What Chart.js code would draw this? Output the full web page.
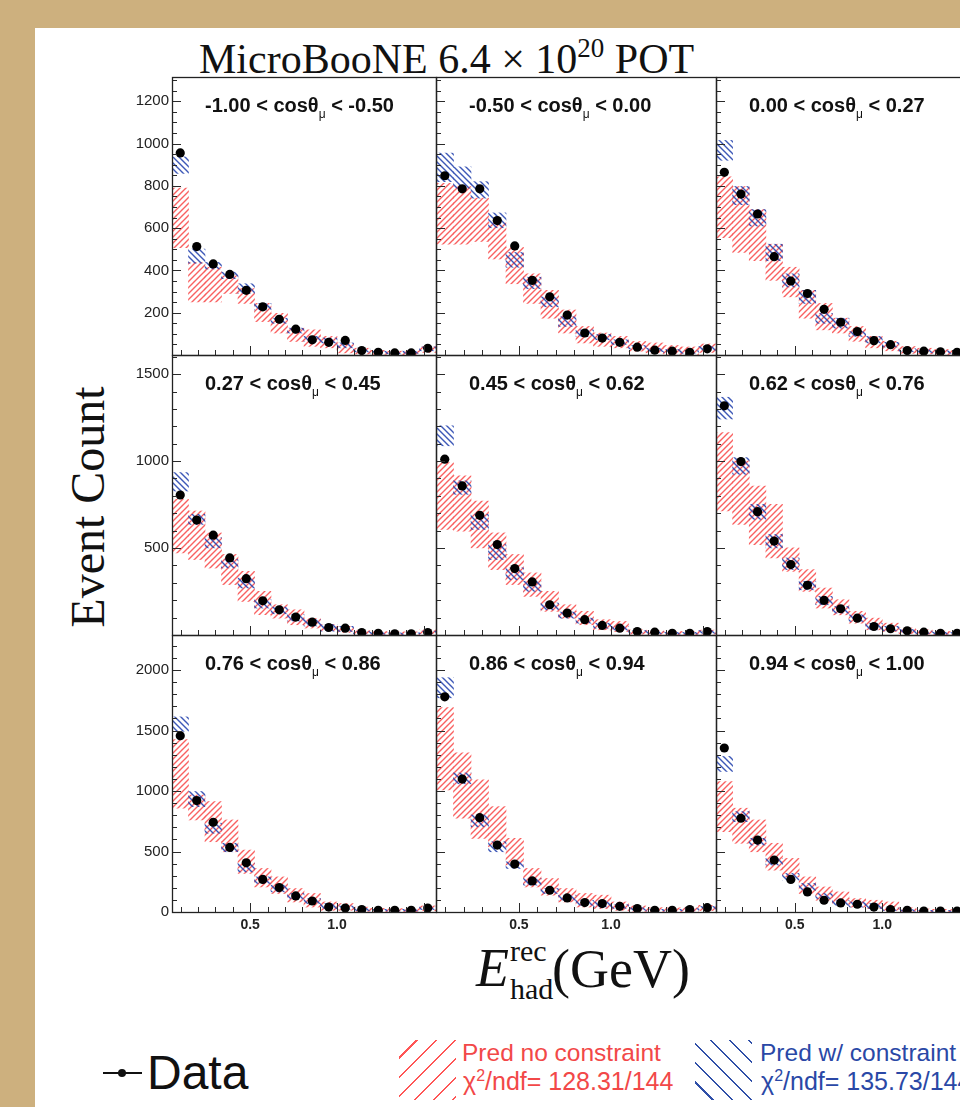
<!DOCTYPE html>
<html>
<head>
<meta charset="utf-8">
<script src="https://cdn.jsdelivr.net/npm/chart.js@4.4.1/dist/chart.umd.min.js"></script>
<style>
  html, body { margin: 0; padding: 0; width: 960px; height: 1107px; overflow: hidden; background: #cdb07e; }
  #sheet { position: absolute; left: 35px; top: 28px; width: 925px; height: 1079px; background: #fff; }
  .abs { position: absolute; white-space: nowrap; }
  .serif { font-family: 'Liberation Serif', 'DejaVu Serif', serif; color: #111; }
  .sans { font-family: 'Liberation Sans', Arial, sans-serif; }
  .plabel { font: bold 20px 'Liberation Sans', Arial, sans-serif; line-height: 20px; color: #111; }
  .plabel sub { font-size: 12px; line-height: 0; vertical-align: -6px; font-weight: normal; }
  .chi sup { font-size: 16px; line-height: 0; vertical-align: 9px; }
  canvas { position: absolute; }
</style>
</head>
<body>
<div id="sheet"></div>

<div class="abs serif" style="left:199px; top:38px; font-size:42px; line-height:42px;">MicroBooNE 6.4 × 10<sup style="font-size:27px; line-height:0; vertical-align:16px;">20</sup> POT</div>

<div class="abs serif" style="left:-62px; top:483px; width:300px; text-align:center; font-size:48px; line-height:48px; transform:rotate(-90deg);">Event Count</div>

<div class="abs serif" style="left:476px; top:941px; font-size:54px; line-height:54px; font-style:italic;">E</div>
<div class="abs serif" style="left:510px; top:936px; font-size:30px; line-height:30px;">rec</div>
<div class="abs serif" style="left:510px; top:974px; font-size:30px; line-height:30px;">had</div>
<div class="abs serif" style="left:552px; top:942px; font-size:54px; line-height:54px;">(GeV)</div>

<!-- legend -->
<div class="abs" style="left:103px; top:1072px; width:39px; height:2px; background:#111;"></div>
<div class="abs" style="left:118px; top:1069px; width:8px; height:8px; border-radius:50%; background:#111;"></div>
<div class="abs sans" style="left:147px; top:1049px; font-size:48px; line-height:48px; color:#111;">Data</div>

<div class="abs" style="left:399px; top:1040px; width:57px; height:60px; background:repeating-linear-gradient(135deg, transparent 0 12px, #f55 12px 13.5px);"></div>
<div class="abs sans" style="left:462px; top:1041px; font-size:24.5px; line-height:24px; color:#f24848;">Pred no constraint</div>
<div class="abs sans chi" style="left:463px; top:1069px; font-size:25px; line-height:24px; color:#f24848;">χ<sup>2</sup>/ndf= 128.31/144</div>

<div class="abs" style="left:695px; top:1040px; width:57px; height:60px; background:repeating-linear-gradient(45deg, transparent 0 12px, #2f4fa8 12px 13.5px);"></div>
<div class="abs sans" style="left:760px; top:1041px; font-size:24.5px; line-height:24px; color:#2a48a6;">Pred w/ constraint</div>
<div class="abs sans chi" style="left:761px; top:1069px; font-size:25px; line-height:24px; color:#2a48a6;">χ<sup>2</sup>/ndf= 135.73/144</div>

<script>
// bins of reconstructed hadronic energy (GeV)
const binCenters = [0.0975, 0.1925, 0.2875, 0.3825, 0.4775, 0.5725, 0.6675, 0.7625, 0.8575, 0.9525, 1.0475, 1.1425, 1.2375, 1.3325, 1.4275, 1.5225];
const xMin = 0.05, xMax = 1.57;
const xTickLabels = [0.5, 1.0];

// cos theta_mu slices
const cosLo = ['-1.00', '-0.50', '0.00', '0.27', '0.45', '0.62', '0.76', '0.86', '0.94'];
const cosHi = ['-0.50', '0.00', '0.27', '0.45', '0.62', '0.76', '0.86', '0.94', '1.00'];

// y axis per row
const yMax = [1315, 1610, 2290];
const yTickLabels = [[200, 400, 600, 800, 1000, 1200], [500, 1000, 1500], [0, 500, 1000, 1500, 2000]];

// -1.00 < cos < -0.50
const data1 = [956, 513, 431, 381, 306, 228, 169, 122, 72, 60, 69, 21, 13, 10, 10, 32];
const red1Lo = [508, 251, 251, 291, 244, 158, 104, 64, 41, 34, 10, 5, 3, 2, 2, 12];
const red1Hi = [789, 438, 415, 375, 314, 244, 197, 127, 119, 88, 57, 32, 22, 18, 20, 40];
const blue1Lo = [859, 434, 407, 361, 291, 213, 150, 104, 64, 57, 34, 14, 8, 6, 8, 20];
const blue1Hi = [937, 501, 438, 392, 337, 244, 174, 127, 88, 80, 57, 28, 18, 14, 18, 38];

// -0.50 < cos < 0.00
const data2 = [848, 786, 786, 636, 516, 353, 275, 189, 104, 80, 60, 37, 23, 18, 13, 29];
const red2Lo = [524, 524, 537, 454, 337, 244, 174, 104, 57, 41, 34, 18, 10, 4, 2, 12];
const red2Hi = [812, 797, 742, 625, 509, 384, 306, 213, 135, 104, 88, 64, 57, 45, 38, 52];
const blue2Lo = [820, 789, 742, 602, 415, 314, 228, 135, 88, 72, 50, 28, 16, 12, 8, 22];
const blue2Hi = [955, 890, 820, 672, 485, 368, 275, 181, 119, 97, 72, 45, 32, 26, 20, 40];

// 0.00 < cos < 0.27
const data3 = [864, 761, 667, 465, 350, 291, 216, 155, 111, 68, 49, 21, 18, 15, 13, 10];
const red3Lo = [555, 485, 446, 353, 275, 174, 119, 104, 65, 34, 20, 8, 5, 3, 2, 2];
const red3Hi = [843, 797, 688, 524, 415, 306, 244, 174, 135, 88, 65, 40, 32, 26, 22, 20];
const blue3Lo = [921, 711, 610, 446, 322, 244, 150, 127, 88, 57, 38, 15, 12, 10, 8, 6];
const blue3Hi = [1015, 797, 688, 524, 384, 306, 197, 174, 111, 88, 60, 30, 24, 20, 18, 16];

// 0.27 < cos < 0.45
const data4 = [805, 661, 574, 443, 324, 197, 145, 103, 74, 43, 39, 14, 10, 7, 7, 14];
const red4Lo = [472, 434, 385, 290, 193, 117, 97, 59, 40, 25, 15, 5, 3, 2, 2, 5];
const red4Hi = [780, 713, 587, 463, 366, 251, 174, 145, 95, 60, 50, 25, 20, 18, 18, 30];
const blue4Lo = [828, 636, 501, 386, 270, 155, 122, 80, 52, 22, 20, 6, 4, 3, 3, 8];
const blue4Hi = [934, 694, 559, 434, 328, 203, 160, 118, 90, 61, 50, 20, 15, 12, 12, 22];

// 0.45 < cos < 0.62
const data5 = [1011, 857, 688, 520, 382, 305, 174, 126, 88, 55, 39, 20, 16, 10, 10, 20];
const red5Lo = [607, 597, 501, 376, 290, 222, 136, 97, 59, 30, 20, 5, 3, 2, 2, 5];
const red5Hi = [991, 915, 770, 587, 463, 357, 251, 174, 136, 88, 78, 30, 25, 20, 20, 28];
const blue5Lo = [1088, 809, 607, 434, 318, 251, 145, 97, 68, 39, 28, 12, 8, 5, 5, 10];
const blue5Hi = [1203, 886, 694, 520, 386, 309, 184, 132, 97, 68, 50, 26, 20, 15, 15, 26];

// 0.62 < cos < 0.76
const data6 = [1318, 997, 709, 540, 405, 286, 199, 151, 97, 49, 36, 24, 16, 10, 10, 8];
const red6Lo = [713, 636, 520, 443, 366, 251, 155, 116, 68, 30, 20, 8, 4, 2, 2, 2];
const red6Hi = [1164, 1001, 857, 751, 501, 376, 270, 203, 136, 97, 68, 40, 30, 22, 20, 18];
const blue6Lo = [1242, 924, 665, 501, 376, 260, 174, 126, 78, 30, 24, 14, 8, 5, 5, 4];
const blue6Hi = [1367, 1020, 751, 578, 443, 309, 222, 164, 116, 68, 50, 32, 22, 16, 14, 12];

// 0.76 < cos < 0.86
const data7 = [1458, 921, 742, 534, 407, 269, 202, 133, 91, 41, 33, 20, 14, 14, 14, 33];
const red7Lo = [858, 761, 581, 498, 319, 207, 153, 83, 41, 14, 14, 5, 3, 3, 3, 10];
const red7Hi = [1425, 968, 913, 761, 512, 360, 290, 194, 153, 83, 70, 40, 30, 28, 28, 50];
const blue7Lo = [1494, 871, 651, 498, 332, 236, 166, 111, 70, 28, 22, 10, 8, 8, 8, 20];
const blue7Hi = [1613, 996, 734, 568, 402, 290, 222, 153, 111, 70, 50, 30, 22, 22, 22, 42];

// 0.86 < cos < 0.94
const data8 = [1779, 1099, 780, 553, 396, 257, 180, 116, 78, 70, 47, 28, 14, 14, 20, 36];
const red8Lo = [1010, 776, 609, 539, 388, 207, 139, 83, 41, 28, 14, 6, 3, 3, 4, 12];
const red8Hi = [1690, 1315, 1093, 871, 609, 360, 277, 194, 153, 139, 83, 50, 36, 34, 36, 55];
const blue8Lo = [1771, 1060, 705, 498, 360, 222, 153, 97, 56, 41, 30, 15, 8, 8, 10, 22];
const blue8Hi = [1937, 1149, 802, 581, 415, 277, 194, 139, 97, 83, 60, 35, 22, 22, 28, 46];

// 0.94 < cos < 1.00
const data9 = [1356, 775, 595, 429, 269, 166, 97, 75, 64, 41, 20, 14, 8, 8, 8, 8];
const red9Lo = [664, 568, 498, 346, 290, 153, 97, 70, 41, 28, 14, 5, 2, 2, 2, 2];
const red9Hi = [1079, 858, 761, 568, 443, 290, 207, 166, 111, 97, 83, 35, 25, 22, 20, 20];
const blue9Lo = [1162, 747, 554, 388, 263, 180, 111, 56, 41, 28, 12, 6, 4, 4, 4, 4];
const blue9Hi = [1286, 830, 609, 443, 319, 236, 153, 97, 83, 70, 32, 20, 14, 14, 14, 14];

const allData = [data1, data2, data3, data4, data5, data6, data7, data8, data9];
const allRedLo = [red1Lo, red2Lo, red3Lo, red4Lo, red5Lo, red6Lo, red7Lo, red8Lo, red9Lo];
const allRedHi = [red1Hi, red2Hi, red3Hi, red4Hi, red5Hi, red6Hi, red7Hi, red8Hi, red9Hi];
const allBlueLo = [blue1Lo, blue2Lo, blue3Lo, blue4Lo, blue5Lo, blue6Lo, blue7Lo, blue8Lo, blue9Lo];
const allBlueHi = [blue1Hi, blue2Hi, blue3Hi, blue4Hi, blue5Hi, blue6Hi, blue7Hi, blue8Hi, blue9Hi];

// pad frames (page pixels)
const colLeft = [172, 436, 716], colWidth = [264, 280, 266];
const rowTop = [77, 355, 635], rowHeight = [278, 280, 277];
const yMinorStep = [50, 100, 100], yMajorStep = [200, 500, 500];

// hatch pattern, '/' or '\'
function makeHatch(color, dir) {
    const s = 6;
    const c = document.createElement('canvas');
    c.width = s; c.height = s;
    const g = c.getContext('2d');
    g.strokeStyle = color;
    g.lineWidth = 1.4;
    g.beginPath();
    if (dir === '/') {
        g.moveTo(-1, s + 1); g.lineTo(s + 1, -1);
        g.moveTo(-1, 1); g.lineTo(1, -1);
        g.moveTo(s - 1, s + 1); g.lineTo(s + 1, s - 1);
    } else {
        g.moveTo(-1, -1); g.lineTo(s + 1, s + 1);
        g.moveTo(s - 1, -1); g.lineTo(s + 1, 1);
        g.moveTo(-1, s - 1); g.lineTo(1, s + 1);
    }
    g.stroke();
    return g.createPattern(c, 'repeat');
}
const redHatch = makeHatch('rgba(248,80,80,0.9)', '/');
const blueHatch = makeHatch('rgba(40,70,175,0.9)', '\\');

// no label overflow padding, so every frame lines up
function fixPadding(s) {
    s.paddingTop = 0; s.paddingBottom = 0; s.paddingLeft = 0; s.paddingRight = 0;
}

// ROOT-style frame with inward ticks
const framePlugin = {
    id: 'frame',
    afterDatasetsDraw(chart, args, opts) {
        const { ctx, chartArea: a, scales: { x, y } } = chart;
        ctx.save();
        ctx.strokeStyle = '#2a2a2a';
        ctx.lineWidth = 1;
        ctx.beginPath();
        for (let v = 0; v <= y.max; v += opts.minor) {
            const py = Math.round(y.getPixelForValue(v)) + 0.5;
            const len = v % opts.major === 0 ? 9 : 5;
            ctx.moveTo(a.left, py);
            ctx.lineTo(a.left + len, py);
        }
        for (let k = 1; k <= 15; k++) {
            const px = Math.round(x.getPixelForValue(k / 10)) + 0.5;
            const len = k % 5 === 0 ? 9 : 5;
            ctx.moveTo(px, a.bottom);
            ctx.lineTo(px, a.bottom - len);
        }
        ctx.stroke();
        ctx.lineWidth = 1.3;
        ctx.strokeStyle = '#222';
        ctx.strokeRect(a.left + 0.5, a.top + 0.5, a.right - a.left, a.bottom - a.top);
        ctx.restore();
    }
};

for (let r = 0; r < 3; r++) {
    for (let c = 0; c < 3; c++) {
        const i = r * 3 + c;
        const padL = c === 0 ? 52 : 3;
        const padB = r === 2 ? 30 : 3;
        const cv = document.createElement('canvas');
        cv.width = colWidth[c] + padL + 3;
        cv.height = rowHeight[r] + 3 + padB;
        cv.style.left = (colLeft[c] - padL) + 'px';
        cv.style.top = (rowTop[r] - 3) + 'px';
        document.body.appendChild(cv);

        const lbl = document.createElement('div');
        lbl.className = 'abs plabel';
        lbl.style.left = (colLeft[c] + 33) + 'px';
        lbl.style.top = (rowTop[r] + 18) + 'px';
        lbl.innerHTML = cosLo[i] + ' &lt; cosθ<sub>μ</sub> &lt; ' + cosHi[i];
        document.body.appendChild(lbl);

        new Chart(cv.getContext('2d'), {
            type: 'bar',
            data: {
                datasets: [
                    {
                        type: 'scatter',
                        data: binCenters.map((x, j) => ({ x: x, y: allData[i][j] })),
                        pointRadius: 4.6,
                        pointBackgroundColor: '#000',
                        pointBorderWidth: 0,
                        order: 0
                    },
                    {
                        type: 'bar',
                        data: binCenters.map((x, j) => ({ x: x, y: [allBlueLo[i][j], allBlueHi[i][j]] })),
                        backgroundColor: blueHatch,
                        borderWidth: 0,
                        grouped: false,
                        barPercentage: 1,
                        categoryPercentage: 1,
                        order: 1
                    },
                    {
                        type: 'bar',
                        data: binCenters.map((x, j) => ({ x: x, y: [allRedLo[i][j], allRedHi[i][j]] })),
                        backgroundColor: redHatch,
                        borderWidth: 0,
                        grouped: false,
                        barPercentage: 1,
                        categoryPercentage: 1,
                        order: 2
                    }
                ]
            },
            options: {
                responsive: false,
                animation: false,
                events: [],
                layout: {
                    autoPadding: false,
                    padding: { left: 3, right: 3, top: 3, bottom: 3 }
                },
                plugins: {
                    legend: { display: false },
                    tooltip: { enabled: false },
                    frame: { minor: yMinorStep[r], major: yMajorStep[r] }
                },
                scales: {
                    x: {
                        type: 'linear',
                        min: xMin,
                        max: xMax,
                        offset: false,
                        display: r === 2,
                        grid: { display: false, drawTicks: false, offset: false },
                        border: { display: false },
                        afterBuildTicks: (s) => { s.ticks = xTickLabels.map(v => ({ value: v })); },
                        afterFit: (s) => { s.height = padB - 3; fixPadding(s); },
                        ticks: {
                            autoSkip: false,
                            maxRotation: 0,
                            padding: 5,
                            color: '#222',
                            font: { family: 'Liberation Sans', size: 14, weight: 'bold' },
                            callback: (v) => Number(v).toFixed(1)
                        }
                    },
                    y: {
                        type: 'linear',
                        min: 0,
                        max: yMax[r],
                        display: c === 0,
                        grid: { display: false, drawTicks: false },
                        border: { display: false },
                        afterBuildTicks: (s) => { s.ticks = yTickLabels[r].map(v => ({ value: v })); },
                        afterFit: (s) => { s.width = padL - 3; fixPadding(s); },
                        ticks: {
                            autoSkip: false,
                            padding: 3,
                            color: '#222',
                            font: { family: 'Liberation Sans', size: 15 },
                            callback: (v) => String(v)
                        }
                    }
                }
            },
            plugins: [framePlugin]
        });
    }
}
</script>
</body>
</html>
